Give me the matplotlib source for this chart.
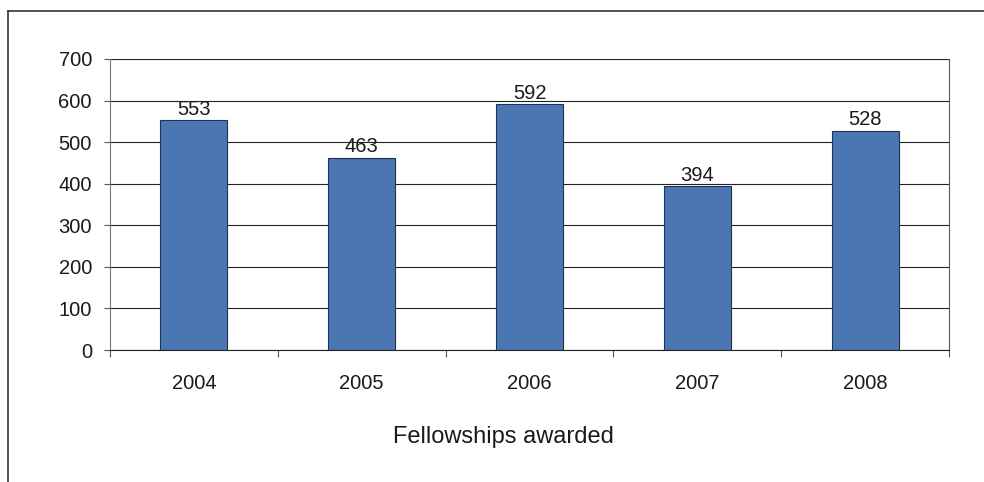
import matplotlib
matplotlib.use("Agg")
import matplotlib.pyplot as plt
from matplotlib.lines import Line2D

years = ["2004", "2005", "2006", "2007", "2008"]
fellowships = [553, 463, 592, 394, 528]
y_ticks = [0, 100, 200, 300, 400, 500, 600, 700]
x_label = "Fellowships awarded"

plt.rcParams['font.family'] = ['Liberation Sans', 'DejaVu Sans']

W, H = 984, 482
fig = plt.figure(figsize=(W / 100, H / 100), dpi=100)

# outer frame (top and left lines only)
fig.add_artist(Line2D([8 / W, 1.0], [1 - 11 / H, 1 - 11 / H], color='#333333', lw=1.2))
fig.add_artist(Line2D([8 / W, 8 / W], [0, 1 - 11 / H], color='#333333', lw=1.2))

left, right, top, bottom = 110, 949, 59, 350
ax = fig.add_axes([left / W, 1 - bottom / H, (right - left) / W, (bottom - top) / H])

x = list(range(len(years)))
ax.bar(x, fellowships, width=0.4, color='#4a76b2', edgecolor='#1f3050', linewidth=0.8, zorder=3)

for xi, v in zip(x, fellowships):
    ax.annotate(str(v), (xi, v), xytext=(0, 1), textcoords='offset points',
                ha='center', va='bottom', fontsize=14.5, color='#1a1a1a', zorder=4)

ax.set_xlim(-0.5, len(years) - 0.5)
ax.set_ylim(0, 700)
ax.set_yticks(y_ticks)
ax.yaxis.grid(True, color='#222222', linewidth=0.8, zorder=0)
ax.tick_params(axis='y', length=4, width=0.8, color='#555555', labelsize=14.5, pad=9, labelcolor='#1a1a1a')

ax.set_xticks(x)
ax.set_xticklabels(years)
ax.tick_params(axis='x', length=0, labelsize=14.5, pad=17, labelcolor='#1a1a1a')
ax.set_xticks([i - 0.5 for i in range(len(years) + 1)], minor=True)
ax.tick_params(axis='x', which='minor', length=5, width=0.8, color='#555555')

ax.spines['top'].set_visible(False)
ax.spines['left'].set_color('#777777')
ax.spines['right'].set_color('#555555')
ax.spines['bottom'].set_color('#222222')
for s in ['left', 'right', 'bottom']:
    ax.spines[s].set_linewidth(0.8)

fig.text(503 / W, 1 - 437 / H, x_label, ha='center', va='center', fontsize=17, color='#1a1a1a')

fig.savefig("out.png", dpi=100)
